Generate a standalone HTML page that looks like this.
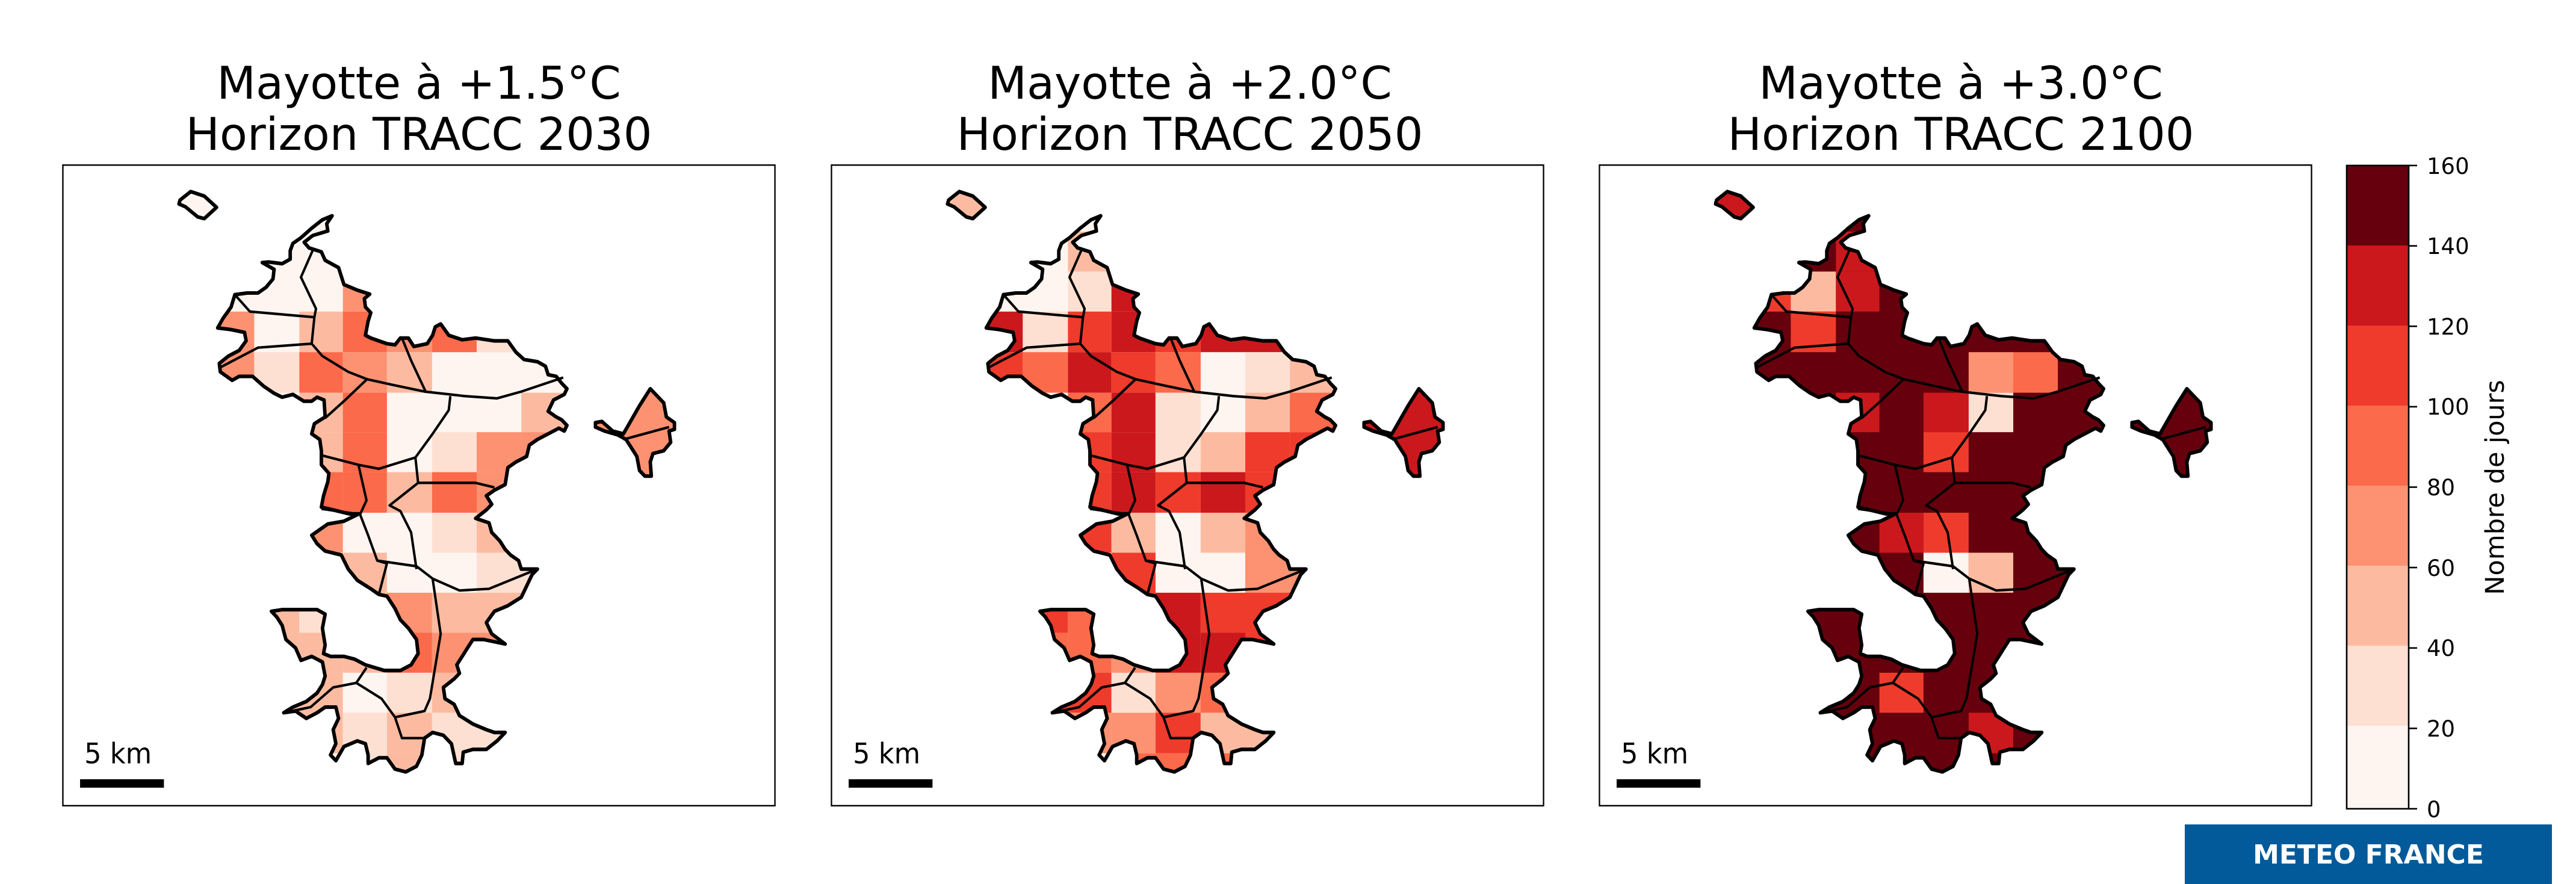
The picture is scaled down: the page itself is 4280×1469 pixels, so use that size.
<!DOCTYPE html>
<html><head><meta charset="utf-8"><style>
html,body{margin:0;padding:0;background:#fff;}
body{width:4280px;height:1469px;overflow:hidden;position:relative;font-family:"DejaVu Sans","Liberation Sans",sans-serif;}
</style></head><body>
<svg width="4280" height="1469" viewBox="0 0 4280 1469" xmlns="http://www.w3.org/2000/svg" style="position:absolute;left:0;top:0">
<defs>
<clipPath id="isl">
<path id="outl" d="M618,383 L608,397 L610,410 L582,418 L566,430 L575,440 L598,447 L605,462 L630,475 L640,505 L665,515 L688,522 L678,530 L680,545 L690,555 L685,570 L680,595 L690,600 L720,610 L735,612 L745,600 L760,600 L770,615 L795,610 L805,595 L810,580 L820,575 L835,595 L860,603 L885,600 L920,605 L945,605 L960,625 L975,638 L1000,642 L1015,650 L1020,665 L1035,668 L1045,680 L1055,690 L1050,700 L1030,710 L1020,730 L1035,740 L1045,745 L1055,755 L1050,765 L1040,760 L1020,770 L1000,780 L985,790 L980,810 L960,820 L945,830 L940,860 L920,870 L905,880 L915,895 L905,905 L885,920 L910,928 L915,945 L930,960 L940,975 L950,985 L965,995 L970,1010 L1000,1010 L990,1020 L980,1040 L970,1060 L945,1075 L920,1085 L905,1105 L915,1125 L940,1143 L900,1135 L880,1135 L870,1150 L860,1165 L850,1180 L855,1195 L845,1205 L825,1220 L828,1240 L845,1250 L855,1270 L880,1285 L905,1295 L920,1300 L940,1300 L925,1315 L905,1330 L880,1330 L862,1335 L860,1355 L848,1355 L840,1320 L825,1305 L805,1300 L790,1310 L785,1340 L775,1360 L755,1370 L735,1365 L720,1345 L705,1345 L685,1355 L685,1340 L680,1320 L665,1315 L640,1325 L625,1350 L615,1340 L625,1320 L620,1295 L630,1275 L625,1255 L605,1255 L590,1265 L570,1275 L550,1262 L528,1265 L545,1255 L570,1245 L590,1230 L600,1215 L605,1200 L600,1175 L580,1165 L560,1172 L550,1150 L532,1135 L525,1110 L515,1095 L505,1085 L525,1082 L555,1082 L590,1082 L605,1090 L600,1115 L605,1145 L602,1160 L615,1165 L640,1165 L660,1170 L680,1180 L715,1190 L745,1190 L765,1180 L778,1160 L775,1135 L760,1115 L745,1100 L735,1080 L720,1058 L705,1055 L690,1045 L665,1030 L648,1010 L635,985 L605,978 L590,965 L580,950 L595,940 L610,930 L640,925 L668,912 L650,912 L620,905 L598,900 L602,880 L610,855 L612,840 L598,825 L598,800 L595,780 L580,770 L585,752 L605,740 L603,710 L590,705 L580,712 L565,712 L545,700 L525,705 L510,698 L490,685 L470,668 L445,668 L432,675 L410,660 L408,645 L425,632 L445,622 L458,605 L455,590 L430,585 L405,582 L415,565 L430,545 L437,523 L460,520 L480,520 L495,510 L508,495 L510,478 L488,466 L500,465 L525,468 L540,460 L540,445 L545,432 L560,422 L580,405 L600,390 Z
M335,355 L355,340 L380,348 L403,368 L380,388 L368,385 L345,367 L333,362 Z
M1108,750 L1120,748 L1140,765 L1160,770 L1175,745 L1190,720 L1210,690 L1220,700 L1235,715 L1240,740 L1255,750 L1255,762 L1245,765 L1248,785 L1235,800 L1215,805 L1210,820 L1212,845 L1200,845 L1190,835 L1185,810 L1165,780 L1150,772 L1125,765 L1108,758 Z"/>
</clipPath>
<g id="lines" fill="none" stroke="#000" stroke-width="4.5" stroke-linejoin="round">
<use href="#outl" stroke-width="6.5"/>
<polyline points="437,523 465,553 585,563 580,610 480,617 410,652"/>
<polyline points="585,563 588,548 560,492 583,442"/>
<polyline points="580,610 600,632 648,660 683,673 730,683 790,695 865,703 925,707 970,695 1048,670"/>
<polyline points="748,600 765,640 792,695"/>
<polyline points="683,673 640,712 605,742"/>
<polyline points="838,703 835,728 805,770 773,812 705,832 667,825 598,808"/>
<polyline points="773,812 778,857 885,857 920,865"/>
<polyline points="667,825 682,888 670,913 598,903"/>
<polyline points="670,913 685,950 702,995 775,1005 805,1027 855,1048 910,1045 1000,1010"/>
<polyline points="778,857 725,897 745,907 765,945 775,1010"/>
<polyline points="702,995 720,1000 705,1055"/>
<polyline points="805,1027 820,1125 800,1240 790,1262 735,1273 748,1310 790,1310"/>
<polyline points="735,1273 710,1240 663,1212 620,1220 578,1255 528,1265"/>
<polyline points="663,1212 682,1185"/>
<polyline points="1160,780 1245,758"/>
</g>
<g id="frame">
<rect x="117" y="293" width="1325" height="1137" fill="none" stroke="#000" stroke-width="2.6"/>
<text x="157" y="1355" font-size="50" font-family="DejaVu Sans, sans-serif">5 km</text>
<rect x="149" y="1383" width="156" height="15" fill="#000"/>
</g>
</defs>

<!-- Panel 1 -->
<g transform="translate(0,0) scale(0.8929,0.9363)">
<g clip-path="url(#isl)">
<rect x="280" y="320" width="1050" height="1100" fill="#fff5f0"/>
<rect x="638" y="482" width="82" height="71" fill="#fc9272"/>
<rect x="300" y="553" width="173" height="72" fill="#fc9272"/><rect x="557" y="553" width="81" height="72" fill="#fcbba1"/><rect x="638" y="553" width="82" height="72" fill="#fb6a4a"/><rect x="720" y="553" width="84" height="72" fill="#fc9272"/><rect x="804" y="553" width="83" height="72" fill="#fb6a4a"/><rect x="887" y="553" width="83" height="72" fill="#fde0d2"/><rect x="970" y="553" width="83" height="72" fill="#fde0d2"/>
<rect x="300" y="625" width="173" height="72" fill="#fc9272"/><rect x="473" y="625" width="84" height="72" fill="#fde0d2"/><rect x="557" y="625" width="81" height="72" fill="#fb6a4a"/><rect x="638" y="625" width="82" height="72" fill="#fc9272"/><rect x="720" y="625" width="84" height="72" fill="#fcbba1"/>
<rect x="557" y="697" width="81" height="70" fill="#fcbba1"/><rect x="638" y="697" width="82" height="70" fill="#fb6a4a"/><rect x="970" y="697" width="83" height="70" fill="#fcbba1"/>
<rect x="557" y="767" width="81" height="71" fill="#fcbba1"/><rect x="638" y="767" width="82" height="71" fill="#fb6a4a"/><rect x="804" y="767" width="83" height="71" fill="#fde0d2"/><rect x="887" y="767" width="83" height="71" fill="#fc9272"/><rect x="970" y="767" width="83" height="71" fill="#fc9272"/>
<rect x="557" y="838" width="81" height="72" fill="#fb6a4a"/><rect x="638" y="838" width="82" height="72" fill="#fb6a4a"/><rect x="720" y="838" width="84" height="72" fill="#fcbba1"/><rect x="804" y="838" width="83" height="72" fill="#fb6a4a"/><rect x="887" y="838" width="83" height="72" fill="#fc9272"/>
<rect x="557" y="910" width="81" height="71" fill="#fc9272"/><rect x="804" y="910" width="83" height="71" fill="#fde0d2"/><rect x="887" y="910" width="83" height="71" fill="#fcbba1"/>
<rect x="638" y="981" width="82" height="71" fill="#fcbba1"/><rect x="887" y="981" width="83" height="71" fill="#fde0d2"/><rect x="970" y="981" width="83" height="71" fill="#fde0d2"/>
<rect x="473" y="1052" width="84" height="71" fill="#fcbba1"/><rect x="557" y="1052" width="81" height="71" fill="#fde0d2"/><rect x="638" y="1052" width="82" height="71" fill="#fcbba1"/><rect x="720" y="1052" width="84" height="71" fill="#fc9272"/><rect x="804" y="1052" width="83" height="71" fill="#fcbba1"/><rect x="887" y="1052" width="83" height="71" fill="#fcbba1"/>
<rect x="473" y="1123" width="84" height="71" fill="#fcbba1"/><rect x="557" y="1123" width="81" height="71" fill="#fcbba1"/><rect x="638" y="1123" width="82" height="71" fill="#fcbba1"/><rect x="720" y="1123" width="84" height="71" fill="#fb6a4a"/><rect x="804" y="1123" width="83" height="71" fill="#fc9272"/><rect x="887" y="1123" width="83" height="71" fill="#fc9272"/>
<rect x="473" y="1194" width="84" height="71" fill="#fcbba1"/><rect x="557" y="1194" width="81" height="71" fill="#fcbba1"/><rect x="720" y="1194" width="84" height="71" fill="#fde0d2"/><rect x="804" y="1194" width="83" height="71" fill="#fcbba1"/>
<rect x="557" y="1265" width="81" height="72" fill="#fcbba1"/><rect x="638" y="1265" width="82" height="72" fill="#fde0d2"/><rect x="720" y="1265" width="84" height="72" fill="#fcbba1"/><rect x="804" y="1265" width="83" height="72" fill="#fde0d2"/><rect x="887" y="1265" width="83" height="72" fill="#fde0d2"/>
<rect x="638" y="1337" width="82" height="71" fill="#fde0d2"/><rect x="720" y="1337" width="84" height="71" fill="#fcbba1"/><rect x="804" y="1337" width="83" height="71" fill="#fde0d2"/>
<rect x="1090" y="670" width="220" height="200" fill="#fc9272"/>
</g>
<use href="#lines"/><use href="#frame"/>
</g>

<!-- Panel 2 -->
<g transform="translate(1277,0) scale(0.8929,0.9363)">
<g clip-path="url(#isl)">
<rect x="280" y="320" width="1050" height="1100" fill="#fff5f0"/>
<rect x="300" y="330" width="120" height="70" fill="#fcbba1"/>
<rect x="557" y="411" width="163" height="71" fill="#fcbba1"/>
<rect x="557" y="482" width="81" height="71" fill="#fde0d2"/><rect x="638" y="482" width="82" height="71" fill="#cb181d"/>
<rect x="300" y="553" width="173" height="72" fill="#cb181d"/><rect x="473" y="553" width="84" height="72" fill="#fde0d2"/><rect x="557" y="553" width="81" height="72" fill="#ef3b2c"/><rect x="638" y="553" width="82" height="72" fill="#cb181d"/><rect x="720" y="553" width="84" height="72" fill="#ef3b2c"/><rect x="804" y="553" width="249" height="72" fill="#cb181d"/>
<rect x="300" y="625" width="173" height="72" fill="#ef3b2c"/><rect x="473" y="625" width="84" height="72" fill="#fb6a4a"/><rect x="557" y="625" width="81" height="72" fill="#cb181d"/><rect x="638" y="625" width="82" height="72" fill="#ef3b2c"/><rect x="720" y="625" width="84" height="72" fill="#fb6a4a"/><rect x="887" y="625" width="83" height="72" fill="#fde0d2"/><rect x="970" y="625" width="83" height="72" fill="#fcbba1"/>
<rect x="557" y="697" width="81" height="70" fill="#fb6a4a"/><rect x="638" y="697" width="82" height="70" fill="#cb181d"/><rect x="720" y="697" width="84" height="70" fill="#fde0d2"/><rect x="887" y="697" width="83" height="70" fill="#fcbba1"/><rect x="970" y="697" width="83" height="70" fill="#fb6a4a"/>
<rect x="557" y="767" width="81" height="71" fill="#ef3b2c"/><rect x="638" y="767" width="82" height="71" fill="#cb181d"/><rect x="720" y="767" width="84" height="71" fill="#fde0d2"/><rect x="804" y="767" width="83" height="71" fill="#fcbba1"/><rect x="887" y="767" width="83" height="71" fill="#ef3b2c"/><rect x="970" y="767" width="83" height="71" fill="#ef3b2c"/>
<rect x="557" y="838" width="81" height="72" fill="#ef3b2c"/><rect x="638" y="838" width="82" height="72" fill="#cb181d"/><rect x="720" y="838" width="84" height="72" fill="#ef3b2c"/><rect x="804" y="838" width="83" height="72" fill="#cb181d"/><rect x="887" y="838" width="83" height="72" fill="#ef3b2c"/>
<rect x="557" y="910" width="81" height="71" fill="#ef3b2c"/><rect x="638" y="910" width="82" height="71" fill="#fcbba1"/><rect x="804" y="910" width="83" height="71" fill="#fcbba1"/><rect x="887" y="910" width="83" height="71" fill="#fc9272"/>
<rect x="638" y="981" width="82" height="71" fill="#ef3b2c"/><rect x="887" y="981" width="83" height="71" fill="#fc9272"/><rect x="970" y="981" width="83" height="71" fill="#fc9272"/>
<rect x="473" y="1052" width="84" height="71" fill="#ef3b2c"/><rect x="557" y="1052" width="81" height="71" fill="#fb6a4a"/><rect x="638" y="1052" width="82" height="71" fill="#ef3b2c"/><rect x="720" y="1052" width="84" height="71" fill="#cb181d"/><rect x="804" y="1052" width="83" height="71" fill="#ef3b2c"/><rect x="887" y="1052" width="83" height="71" fill="#ef3b2c"/>
<rect x="473" y="1123" width="84" height="71" fill="#fb6a4a"/><rect x="557" y="1123" width="81" height="71" fill="#fb6a4a"/><rect x="638" y="1123" width="82" height="71" fill="#fc9272"/><rect x="720" y="1123" width="84" height="71" fill="#cb181d"/><rect x="804" y="1123" width="83" height="71" fill="#cb181d"/><rect x="887" y="1123" width="83" height="71" fill="#ef3b2c"/>
<rect x="473" y="1194" width="84" height="71" fill="#ef3b2c"/><rect x="557" y="1194" width="81" height="71" fill="#ef3b2c"/><rect x="638" y="1194" width="82" height="71" fill="#fde0d2"/><rect x="720" y="1194" width="84" height="71" fill="#fc9272"/><rect x="804" y="1194" width="83" height="71" fill="#fb6a4a"/>
<rect x="557" y="1265" width="81" height="72" fill="#fc9272"/><rect x="638" y="1265" width="82" height="72" fill="#fc9272"/><rect x="720" y="1265" width="84" height="72" fill="#ef3b2c"/><rect x="804" y="1265" width="83" height="72" fill="#fcbba1"/><rect x="887" y="1265" width="83" height="72" fill="#fcbba1"/>
<rect x="638" y="1337" width="82" height="71" fill="#fb6a4a"/><rect x="720" y="1337" width="84" height="71" fill="#fb6a4a"/><rect x="804" y="1337" width="83" height="71" fill="#fb6a4a"/>
<rect x="1090" y="670" width="220" height="200" fill="#cb181d"/>
</g>
<use href="#lines"/><use href="#frame"/>
</g>

<!-- Panel 3 -->
<g transform="translate(2553,0) scale(0.8929,0.9363)">
<g clip-path="url(#isl)">
<rect x="280" y="320" width="1050" height="1100" fill="#67000d"/>
<rect x="300" y="330" width="120" height="70" fill="#cb181d"/>
<rect x="557" y="411" width="163" height="71" fill="#cb181d"/>
<rect x="300" y="482" width="173" height="71" fill="#ef3b2c"/><rect x="473" y="482" width="84" height="71" fill="#fcbba1"/><rect x="557" y="482" width="81" height="71" fill="#cb181d"/>
<rect x="473" y="553" width="84" height="72" fill="#ef3b2c"/>
<rect x="804" y="625" width="83" height="72" fill="#fc9272"/><rect x="887" y="625" width="83" height="72" fill="#fb6a4a"/>
<rect x="557" y="697" width="81" height="70" fill="#cb181d"/><rect x="720" y="697" width="84" height="70" fill="#cb181d"/><rect x="804" y="697" width="83" height="70" fill="#fde0d2"/>
<rect x="720" y="767" width="84" height="71" fill="#ef3b2c"/>
<rect x="638" y="910" width="82" height="71" fill="#cb181d"/><rect x="720" y="910" width="84" height="71" fill="#ef3b2c"/>
<rect x="720" y="981" width="84" height="71" fill="#fff5f0"/><rect x="804" y="981" width="83" height="71" fill="#fcbba1"/>
<rect x="638" y="1194" width="82" height="71" fill="#ef3b2c"/>
<rect x="804" y="1265" width="83" height="72" fill="#cb181d"/>
</g>
<use href="#lines"/><use href="#frame"/>
</g>

<!-- Titles -->
<g font-family="DejaVu Sans, sans-serif" font-size="75" text-anchor="middle" fill="#000">
<text x="696" y="164">Mayotte à +1.5°C</text><text x="696" y="249">Horizon TRACC 2030</text>
<text x="1977" y="164">Mayotte à +2.0°C</text><text x="1977" y="249">Horizon TRACC 2050</text>
<text x="3258" y="164">Mayotte à +3.0°C</text><text x="3258" y="249">Horizon TRACC 2100</text>
</g>

<!-- Colorbar -->
<g>
<rect x="3899" y="275" width="103" height="134" fill="#67000d"/>
<rect x="3899" y="408" width="103" height="134" fill="#cb181d"/>
<rect x="3899" y="541" width="103" height="134" fill="#ef3b2c"/>
<rect x="3899" y="674" width="103" height="134" fill="#fb6a4a"/>
<rect x="3899" y="807" width="103" height="134" fill="#fc9272"/>
<rect x="3899" y="940" width="103" height="134" fill="#fcbba1"/>
<rect x="3899" y="1073" width="103" height="134" fill="#fde0d2"/>
<rect x="3899" y="1206" width="103" height="138" fill="#fff5f0"/>
<rect x="3899" y="275" width="103" height="1069" fill="none" stroke="#000" stroke-width="2.6"/>
<g stroke="#000" stroke-width="2.6">
<line x1="4002" y1="275" x2="4016" y2="275"/><line x1="4002" y1="408.6" x2="4016" y2="408.6"/><line x1="4002" y1="542.2" x2="4016" y2="542.2"/><line x1="4002" y1="675.9" x2="4016" y2="675.9"/><line x1="4002" y1="809.5" x2="4016" y2="809.5"/><line x1="4002" y1="943.1" x2="4016" y2="943.1"/><line x1="4002" y1="1076.8" x2="4016" y2="1076.8"/><line x1="4002" y1="1210.4" x2="4016" y2="1210.4"/><line x1="4002" y1="1344" x2="4016" y2="1344"/>
</g>
<g font-family="DejaVu Sans, sans-serif" font-size="37" fill="#000">
<text x="4032" y="289">160</text><text x="4032" y="422">140</text><text x="4032" y="556">120</text><text x="4032" y="689">100</text><text x="4032" y="823">80</text><text x="4032" y="957">60</text><text x="4032" y="1090">40</text><text x="4032" y="1224">20</text><text x="4032" y="1358">0</text>
</g>
<text x="0" y="0" font-family="DejaVu Sans, sans-serif" font-size="43" text-anchor="middle" transform="translate(4160,810) rotate(-90)">Nombre de jours</text>
</g>

<!-- Logo -->
<rect x="3630" y="1370" width="610" height="99" fill="#035a9a"/>
<text x="3935" y="1435" font-family="DejaVu Sans, sans-serif" font-weight="bold" font-size="44" fill="#fff" text-anchor="middle">METEO FRANCE</text>
</svg>
</body></html>
